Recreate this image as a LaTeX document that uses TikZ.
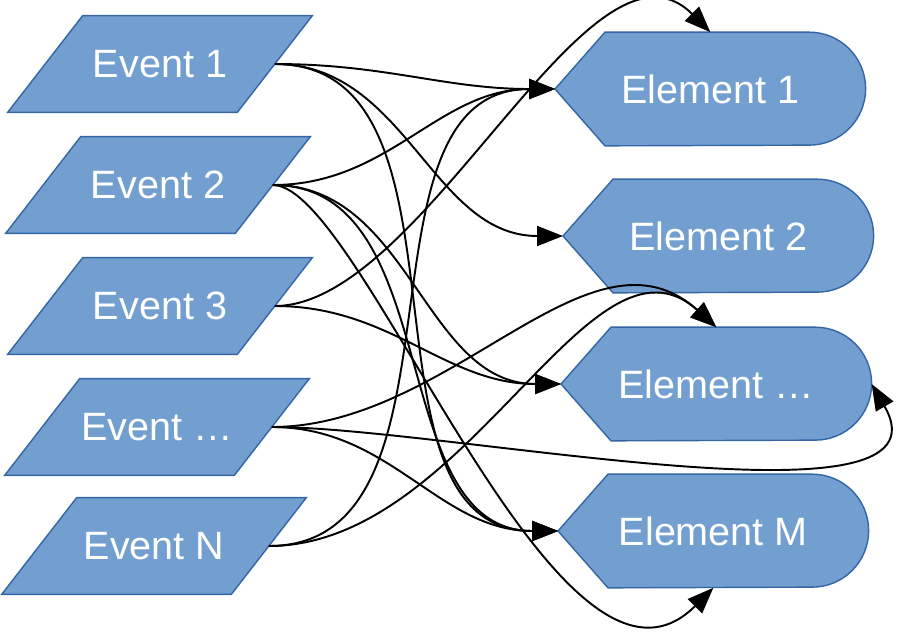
\documentclass[tikz,border=0pt]{standalone}
\usepackage{fontspec}
\setmainfont{Liberation Sans}
\usetikzlibrary{arrows.meta,backgrounds}
\definecolor{boxblue}{RGB}{114,159,207}
\definecolor{boxline}{RGB}{52,101,164}

\begin{document}
\begin{tikzpicture}[x=0.02cm, y=-0.02cm,
  every node/.style={font=\fontsize{22.5}{27}\selectfont, text=white, inner sep=0pt},
  event/.style={minimum width=4.58cm, minimum height=1.92cm},
  element/.style={minimum width=6.2cm, minimum height=2.26cm, anchor=west},
  boxshape/.style={draw=boxline, fill=boxblue, line width=0.8pt},
  link/.style={-{Triangle[length=5.2mm, width=4mm]}, line width=1.1pt}]
\useasboundingbox (0,0) rectangle (900,640);
\node[event] (ev1) at (160,64) {Event 1};
\node[event] (ev2) at (158,185) {Event 2};
\node[event] (ev3) at (160,306) {Event 3};
\node[event] (ev4) at (157,427) {Event …};
\node[event] (ev5) at (154,546) {Event N};
\node[element] (el1) at (555,89) {Element 1};
\node[element] (el2) at (563,236) {Element 2};
\node[element] (el3) at (561,384) {Element …};
\node[element] (elM) at (558,531) {Element M};
\begin{scope}[on background layer]
\foreach \n in {ev1,ev2,ev3,ev4,ev5}
  \draw[boxshape] ([xshift=0.75cm]\n.north west) -- ([xshift=0.75cm]\n.north east) -- ([xshift=-0.75cm]\n.south east) -- ([xshift=-0.75cm]\n.south west) -- cycle;
\foreach \n in {el1,el2,el3,elM}
  \draw[boxshape] (\n.west) -- ([xshift=1cm]\n.north west) -- ([xshift=-1.13cm]\n.north east) arc[start angle=90, end angle=-90, radius=1.13cm] -- ([xshift=1cm]\n.south west) -- cycle;
\end{scope}
\draw[link] (ev1.east) to[out=0,in=180] (el1.west);
\draw[link] (ev1.east) to[out=0,in=180] (el2.west);
\draw[link] (ev1.east) to[out=0,in=180] (elM.west);
\draw[link] (ev2.east) to[out=0,in=180] (el1.west);
\draw[link] (ev2.east) to[out=0,in=180] (el3.west);
\draw[link] (ev2.east) to[out=0,in=180] (elM.west);
\draw[link] (ev2.east) to[out=0,in=-135,out distance=1.8cm,in distance=4.4cm] (elM.south);
\draw[link] (ev3.east) to[out=0,in=135,out distance=3cm,in distance=3.4cm] (el1.north);
\draw[link] (ev3.east) to[out=0,in=180] (el3.west);
\draw[link] (ev4.east) to[out=0,in=138,out distance=3.6cm,in distance=3.4cm] (el3.north);
\draw[link] (ev4.east) to[out=0,in=-60,looseness=0.75] (el3.east);
\draw[link] (ev4.east) to[out=0,in=180] (elM.west);
\draw[link] (ev5.east) to[out=0,in=180] (el1.west);
\draw[link] (ev5.east) to[out=0,in=138,out distance=4cm,in distance=3.4cm] (el3.north);
\end{tikzpicture}
\end{document}
